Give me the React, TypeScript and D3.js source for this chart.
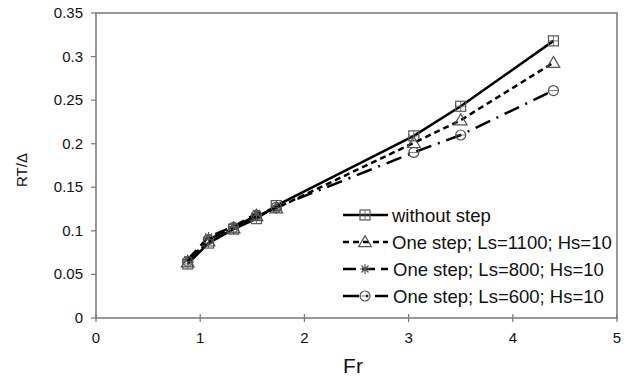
import * as d3 from 'd3';

// Froude numbers measured
const frValues = [0.88, 1.08, 1.32, 1.54, 1.73, 3.05, 3.5, 4.39];

// RT/Δ per configuration
const withoutStep = [0.062, 0.086, 0.102, 0.114, 0.129, 0.209, 0.243, 0.318];
const ls1100 = [0.064, 0.088, 0.103, 0.117, 0.126, 0.201, 0.227, 0.293];
const ls800 = [0.067, 0.093, 0.105, 0.12, 0.125];
const ls600 = [0.065, 0.09, 0.104, 0.118, 0.127, 0.19, 0.21, 0.261];

const xTicks = [0, 1, 2, 3, 4, 5];
const yTicks = [0, 0.05, 0.1, 0.15, 0.2, 0.25, 0.3, 0.35];

const seriesNames = [
  'without step',
  'One step; Ls=1100; Hs=10',
  'One step; Ls=800; Hs=10',
  'One step; Ls=600; Hs=10',
];

const W = 628;
const H = 376;
const box = { left: 96, right: 617, top: 13, bottom: 318 };
const font = '"Liberation Sans", Arial, sans-serif';

type Series = {
  name: string;
  values: number[];
  dash: string;
  marker: 'square' | 'triangle' | 'star' | 'circle';
};

const series: Series[] = [
  { name: seriesNames[0], values: withoutStep, dash: '', marker: 'square' },
  { name: seriesNames[1], values: ls1100, dash: '6 4', marker: 'triangle' },
  { name: seriesNames[2], values: ls800, dash: '13 6', marker: 'star' },
  { name: seriesNames[3], values: ls600, dash: '16 7 2 7', marker: 'circle' },
];

function Marker({ kind, x, y }: { kind: Series['marker']; x: number; y: number }) {
  const stroke = '#555';
  if (kind === 'square') {
    return (
      <g>
        <rect x={x - 5} y={y - 5} width={10} height={10} fill="none" stroke={stroke} strokeWidth={1.2} />
        <path d={`M${x - 5},${y}H${x + 5}M${x},${y - 5}V${y + 5}`} stroke={stroke} strokeWidth={0.8} />
      </g>
    );
  }
  if (kind === 'triangle') {
    const tri = d3.symbol(d3.symbolTriangle, 70)();
    return <path d={tri || ''} transform={`translate(${x},${y + 1})`} fill="none" stroke={stroke} strokeWidth={1.2} />;
  }
  if (kind === 'star') {
    const r = 5;
    return (
      <path
        d={`M${x - r},${y}H${x + r}M${x - r * 0.7},${y - r * 0.7}L${x + r * 0.7},${y + r * 0.7}M${x + r * 0.7},${y - r * 0.7}L${x - r * 0.7},${y + r * 0.7}M${x},${y - r}V${y + r}`}
        stroke={stroke}
        strokeWidth={1.2}
      />
    );
  }
  return (
    <g>
      <circle cx={x} cy={y} r={5} fill="none" stroke={stroke} strokeWidth={1.2} />
      <path d={`M${x - 5},${y}H${x + 5}`} stroke={stroke} strokeWidth={0.8} />
    </g>
  );
}

export default function App() {
  const x = d3.scaleLinear().domain([0, 5]).range([box.left, box.right]);
  const y = d3.scaleLinear().domain([0, 0.35]).range([box.bottom, box.top]);

  const line = d3
    .line<number>()
    .x((_, i) => x(frValues[i]))
    .y((d) => y(d));

  const legendX = 343;
  const legendY = [215, 242, 269, 296];

  return (
    <svg width={W} height={H} style={{ position: 'absolute', left: 0, top: 0, background: '#fff' }}>
      {/* frame */}
      <rect
        x={box.left}
        y={box.top}
        width={box.right - box.left}
        height={box.bottom - box.top}
        fill="none"
        stroke="#777"
        strokeWidth={1.5}
      />

      {/* y axis ticks */}
      {yTicks.map((t) => (
        <g key={'y' + t}>
          <line x1={box.left - 5} x2={box.left} y1={y(t)} y2={y(t)} stroke="#777" strokeWidth={1.2} />
          <text x={box.left - 13} y={y(t) + 5} textAnchor="end" fontFamily={font} fontSize={15} fill="#111">
            {d3.format('~g')(t)}
          </text>
        </g>
      ))}

      {/* x axis ticks */}
      {xTicks.map((t) => (
        <g key={'x' + t}>
          <line x1={x(t)} x2={x(t)} y1={box.bottom - 4} y2={box.bottom + 4} stroke="#777" strokeWidth={1.2} />
          <text x={x(t)} y={box.bottom + 25} textAnchor="middle" fontFamily={font} fontSize={15} fill="#111">
            {t}
          </text>
        </g>
      ))}

      <text x={353} y={373} textAnchor="middle" fontFamily={font} fontSize={21} fill="#111">
        Fr
      </text>
      <text
        transform={`translate(27,170) rotate(-90)`}
        textAnchor="middle"
        fontFamily={font}
        fontSize={15}
        fill="#111"
      >
        RT/Δ
      </text>

      {/* series */}
      {series.map((s) => (
        <g key={s.name}>
          <path
            d={line(s.values) || ''}
            fill="none"
            stroke="#000"
            strokeWidth={2.5}
            strokeDasharray={s.dash || undefined}
          />
          {s.values.map((v, i) => (
            <Marker key={i} kind={s.marker} x={x(frValues[i])} y={y(v)} />
          ))}
        </g>
      ))}

      {/* legend */}
      {series.map((s, i) => (
        <g key={'leg' + i}>
          <line
            x1={legendX}
            x2={legendX + 45}
            y1={legendY[i]}
            y2={legendY[i]}
            stroke="#000"
            strokeWidth={2.5}
            strokeDasharray={s.dash || undefined}
          />
          <Marker kind={s.marker} x={legendX + 22} y={legendY[i]} />
          <text
            x={legendX + (i >= 2 ? 50 : 49)}
            y={legendY[i] + 7}
            fontFamily={font}
            fontSize={18.5}
            fill="#111"
          >
            {s.name}
          </text>
        </g>
      ))}
    </svg>
  );
}
